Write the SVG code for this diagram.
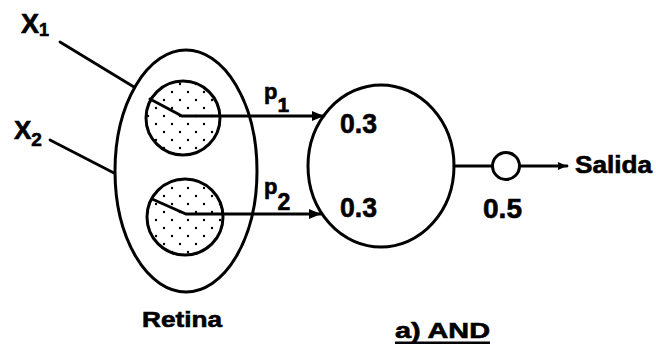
<svg xmlns="http://www.w3.org/2000/svg" width="656" height="348" viewBox="0 0 656 348">
<style>
.ln{fill:none;stroke:#000;stroke-width:2.8;stroke-linecap:round}
.sh{fill:#fff;stroke:#000;stroke-width:3}
.t{font-family:"Liberation Sans",Arial,sans-serif;font-weight:bold;fill:#000;stroke:#000;stroke-width:0.6}
</style>
<defs>
<pattern id="dots" x="0" y="0" width="16" height="16" patternUnits="userSpaceOnUse">
<rect width="16" height="16" fill="#fff"/>
<circle cx="4" cy="4" r="1.2" fill="#000"/>
<circle cx="12" cy="12" r="1.2" fill="#000"/>
</pattern>
<marker id="ah" viewBox="0 0 12 10" refX="12" refY="5" markerWidth="12" markerHeight="10" markerUnits="userSpaceOnUse" orient="auto">
<path d="M0,0 L12,5 L0,10 z" fill="#000"/>
</marker>
<marker id="ahs" viewBox="0 0 9 8" refX="9" refY="4" markerWidth="9" markerHeight="8" markerUnits="userSpaceOnUse" orient="auto">
<path d="M0,0 L9,4 L0,8 z" fill="#000"/>
</marker>
</defs>
<g id="connectors">
<line class="ln" x1="60" y1="42" x2="134" y2="87"/>
<line class="ln" x1="50" y1="140" x2="114" y2="173"/>
</g>
<g id="retina">
<ellipse class="sh" cx="186" cy="171" rx="71" ry="121"/>
</g>
<g id="cell1">
<circle cx="183" cy="118" r="37" fill="url(#dots)" stroke="#000" stroke-width="3"/>
</g>
<g id="cell2">
<circle cx="185" cy="217" r="38" fill="url(#dots)" stroke="#000" stroke-width="3"/>
</g>
<g id="neuron">
<ellipse class="sh" cx="381" cy="166" rx="73" ry="81"/>
</g>
<g id="threshold">
<circle class="sh" cx="506" cy="166" r="13.5"/>
</g>
<g id="connectors2">
<polyline class="ln" points="150,99 182,116 324,116" marker-end="url(#ah)"/>
<polyline class="ln" points="152,199 186,214 321,214" marker-end="url(#ah)"/>
<line class="ln" x1="454" y1="166" x2="492" y2="166"/>
<line class="ln" x1="519.5" y1="166" x2="567" y2="166" marker-end="url(#ahs)"/>
</g>
<g id="labels">
<text class="t" x="21" y="33" font-size="27">X<tspan font-size="18" dy="3">1</tspan></text>
<text class="t" x="14" y="139" font-size="26">X<tspan font-size="19" dy="7">2</tspan></text>
<text class="t" x="264" y="99" font-size="22">p<tspan font-size="21" dy="13">1</tspan></text>
<text class="t" x="264" y="194" font-size="22">p<tspan font-size="23" dy="16">2</tspan></text>
<text class="t" x="340" y="133" font-size="28" textLength="37" lengthAdjust="spacingAndGlyphs">0.3</text>
<text class="t" x="340" y="217" font-size="28" textLength="37" lengthAdjust="spacingAndGlyphs">0.3</text>
<text class="t" x="483" y="218" font-size="28" textLength="39" lengthAdjust="spacingAndGlyphs">0.5</text>
<text class="t" x="575" y="173" font-size="24" textLength="77" lengthAdjust="spacingAndGlyphs">Salida</text>
<text class="t" x="142" y="327" font-size="22" textLength="80" lengthAdjust="spacingAndGlyphs">Retina</text>
<text class="t" x="395" y="338" font-size="22" textLength="95" lengthAdjust="spacingAndGlyphs">a) AND</text>
<rect x="395" y="341.5" width="95" height="2.5" fill="#000"/>
</g>
</svg>
